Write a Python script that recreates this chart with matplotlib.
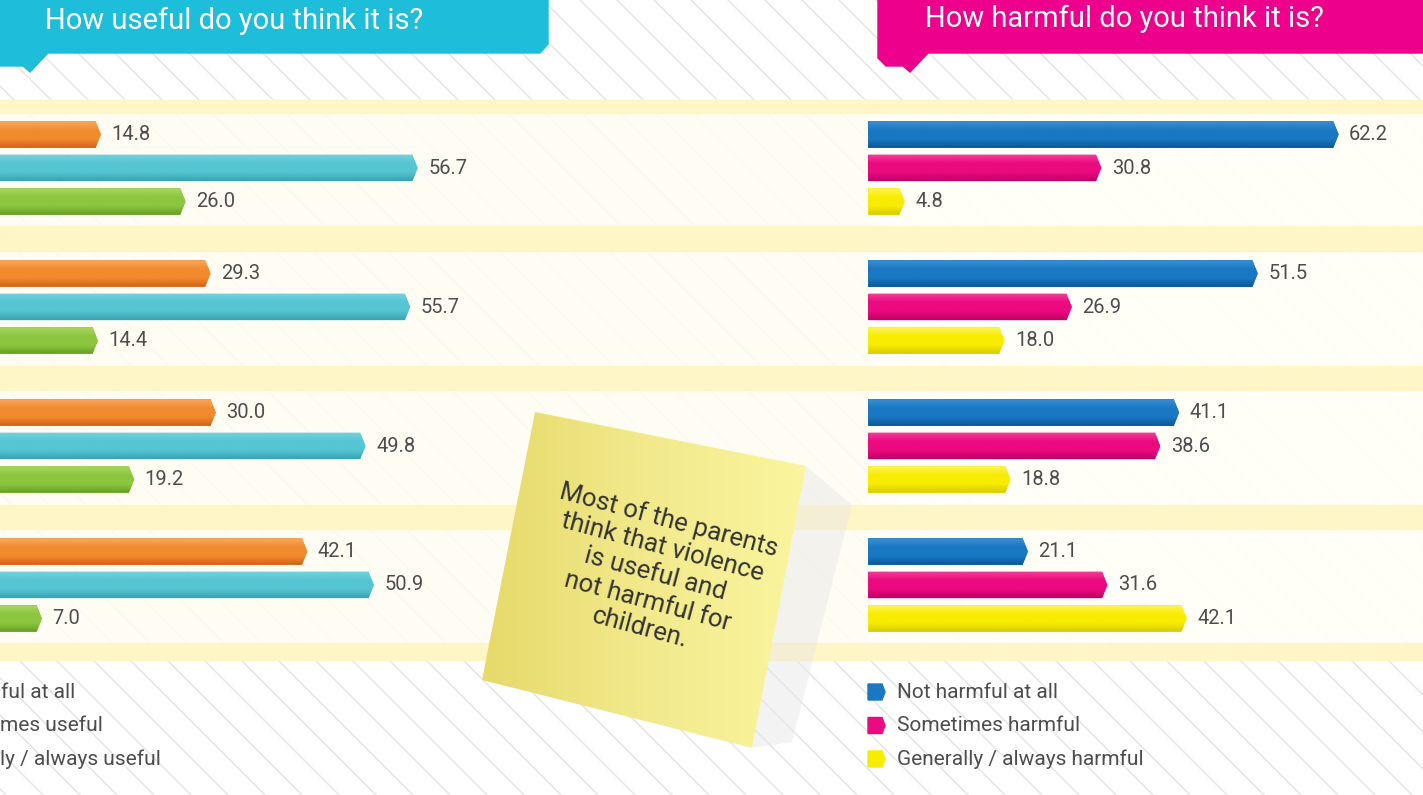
import numpy as np
import matplotlib.pyplot as plt
from matplotlib.patches import Polygon, Rectangle
from matplotlib.colors import LinearSegmentedColormap

plt.rcParams['font.family'] = ['Roboto', 'DejaVu Sans']

# survey answers, four groups top to bottom
useful_labels = ["ful at all", "mes useful", "ly / always useful"]  # only the visible part of the legend
useful_not = [14.8, 29.3, 30.0, 42.1]
useful_some = [56.7, 55.7, 49.8, 50.9]
useful_always = [26.0, 14.4, 19.2, 7.0]

harmful_labels = ["Not harmful at all", "Sometimes harmful", "Generally / always harmful"]
harmful_not = [62.2, 51.5, 41.1, 21.1]
harmful_some = [30.8, 26.9, 38.6, 31.6]
harmful_always = [4.8, 18.0, 18.8, 42.1]

# (highlight, main, shadow)
useful_colors = [("#f9a862", "#f28a2e", "#cf6415"), ("#74d2de", "#55c5d3", "#3aa3b2"),
                 ("#a8d663", "#8cc63f", "#66a023")]
harmful_colors = [("#3b8fd2", "#1a78c2", "#0a5796"), ("#f2419a", "#ec0a80", "#c20066"),
                  ("#fff35a", "#f8ec00", "#d6ca00")]

W, H = 1423, 795
fig = plt.figure(figsize=(W / 100, H / 100), dpi=100)

# background in pixel coordinates
bg = fig.add_axes([0, 0, 1, 1])
bg.set_xlim(0, W)
bg.set_ylim(H, 0)
bg.axis("off")

bg.add_patch(Rectangle((0, 0), W, H, color="white", zorder=0))
# diagonal hatch
for x0 in range(-900, W + 40, 37):
    bg.plot([x0, x0 + H], [0, H], color="#dcdcdc", lw=1.1, alpha=0.7, zorder=1)

bg.add_patch(Rectangle((0, 100), W, 560, color="#fffdf2", alpha=0.88, zorder=2))
bg.add_patch(Rectangle((868, 113), W - 868, 530, color="#fffffa", alpha=0.6, zorder=2))
for y0, y1 in [(100, 113), (226, 251), (366, 390), (505, 529), (643, 660)]:
    bg.add_patch(Rectangle((0, y0), W, y1 - y0, color="#fff5bd", alpha=0.8, zorder=3))

# header bubbles
left_head = [(0, 0), (548, 0), (548, 44), (540, 53), (48, 53), (30, 72), (23, 66), (0, 66)]
bg.add_patch(Polygon(left_head, closed=True, color="#1ebdd9", zorder=5))
bg.text(45, 21, "How useful do you think it is?", color="white", fontsize=21,
        va="center", ha="left", zorder=6)
right_head = [(878, 0), (W, 0), (W, 53), (928, 53), (910, 72), (903, 66), (886, 66), (878, 58)]
bg.add_patch(Polygon(right_head, closed=True, color="#ec008c", zorder=5))
bg.text(925, 19, "How harmful do you think it is?", color="white", fontsize=21,
        va="center", ha="left", zorder=6)

# sticky note with soft shadow on the right
shadow = [(806, 466), (852, 505), (792, 742), (752, 748)]
bg.add_patch(Polygon(shadow, closed=True, color="#e6e6e6", alpha=0.45, zorder=7, lw=0))
note = Polygon([(535, 412), (806, 466), (752, 748), (482, 680)], closed=True,
               facecolor="none", edgecolor="none", zorder=8)
bg.add_patch(note)
note_cmap = LinearSegmentedColormap.from_list("note", ["#e6da6a", "#f2e98c", "#faf59e"])
im = bg.imshow(np.linspace(0, 1, 100).reshape(1, -1), cmap=note_cmap, aspect="auto",
               extent=[482, 806, 748, 412], zorder=8)
im.set_clip_path(note)
bg.set_xlim(0, W)
bg.set_ylim(H, 0)
bg.text(655, 574, "Most of the parents\nthink that violence\nis useful and\nnot harmful for\nchildren.",
        rotation=-15, rotation_mode="anchor", ha="center", va="center", fontsize=18.5,
        color="#333333", linespacing=1.2, zorder=9)

# legends
for i, lab in enumerate(useful_labels):
    bg.text([1, 0, 0][i], 692 + i * 33.5, lab, ha="left", va="center", fontsize=15,
            color="#4d4d4d", zorder=6)
for i, lab in enumerate(harmful_labels):
    y = 692 + i * 33.5
    bg.add_patch(Polygon([(868, y - 8), (882, y - 8), (885, y), (882, y + 8), (868, y + 8)],
                         closed=True, color=harmful_colors[i][1], zorder=6))
    bg.text(897, y, lab, ha="left", va="center", fontsize=15, color="#4d4d4d", zorder=6)


def bar_panel(left_px, right_px, zero_px, series, colors):
    # axes placed so that one unit is ~7.56 px
    scale = 7.56
    ax = fig.add_axes([left_px / W, (H - 660) / H, (right_px - left_px) / W, 560 / H])
    ax.axis("off")
    ax.patch.set_alpha(0)
    h = 0.19
    tip = 0.7
    grad = np.linspace(0, 1, 60).reshape(-1, 1)
    for k, vals in enumerate(series):
        hi, main, dark = colors[k]
        cmap = LinearSegmentedColormap.from_list("bar%d" % k, [hi, main, main, dark])
        pos = [g + (k - 1) * 0.241 for g in range(len(vals))]
        ax.barh(pos, [v - tip for v in vals], height=h, color=main, zorder=3)
        for p, v in zip(pos, vals):
            shape = Polygon([(0, p - h / 2), (v - tip, p - h / 2), (v, p), (v - tip, p + h / 2), (0, p + h / 2)],
                            closed=True, facecolor=main, edgecolor="none", zorder=3)
            ax.add_patch(shape)
            im = ax.imshow(grad, cmap=cmap, aspect="auto", extent=[0, v, p + h / 2, p - h / 2], zorder=4)
            im.set_clip_path(shape)
            ax.text(v + 1.4, p, "%.1f" % v, va="center", ha="left", fontsize=14.5,
                    color="#4d4d4d", zorder=5)
    ax.set_xlim((left_px - zero_px) / scale, (right_px - zero_px) / scale)
    top = (168 - 100) / 139.0
    ax.set_ylim(560 / 139.0 - top, -top)
    return ax


bar_panel(0, 860, -11, [useful_not, useful_some, useful_always], useful_colors)
bar_panel(860, W, 868.4, [harmful_not, harmful_some, harmful_always], harmful_colors)

plt.savefig("out.png", dpi=100)
